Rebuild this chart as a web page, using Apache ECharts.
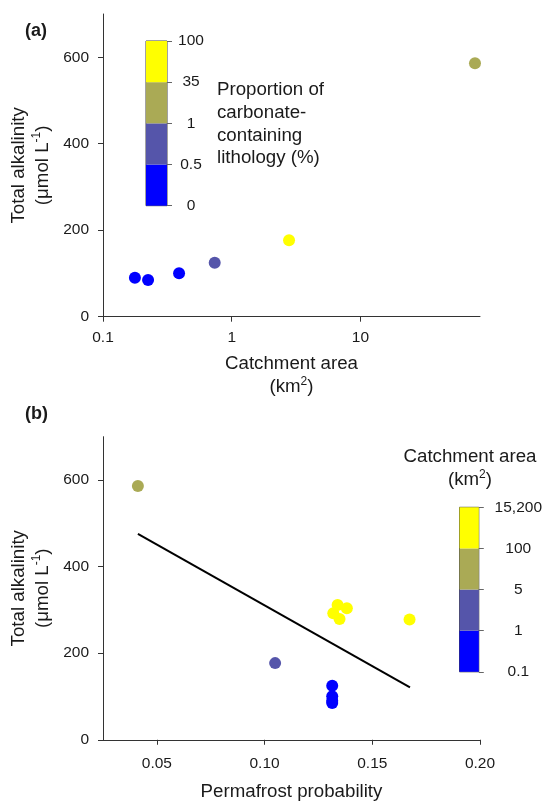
<!DOCTYPE html>
<html><head><meta charset="utf-8">
<script src="https://cdn.jsdelivr.net/npm/echarts@6/dist/echarts.min.js"></script>
<style>html,body{margin:0;padding:0;background:#fff}#c{width:545px;height:802px}</style>
</head><body><div id="c"></div><script>
const FONT = '"Liberation Sans", Arial, Helvetica, sans-serif';
const classColors = ['#0000FF', '#5555AA', '#AAAA55', '#FFFF00'];

// Panel (a): catchment area vs total alkalinity
const catchmentA = [0.177, 0.224, 0.39, 0.738, 2.79, 77.7];
const alkalinityA = [90, 85, 100.5, 125, 177, 586];
const lithClassA = [0, 0, 0, 1, 3, 2];
const xTicksA = [0.1, 1, 10];
const yTicks = [0, 200, 400, 600];
const lithLabels = ['0', '0.5', '1', '35', '100'];

// Panel (b): permafrost probability vs total alkalinity
const permafrostB = [0.0412, 0.1049, 0.1314, 0.1314, 0.1314, 0.1314, 0.1339, 0.1382, 0.1319, 0.1348, 0.1673];
const alkalinityB = [586, 177, 125, 100.5, 90, 85, 311, 303.5, 292, 279, 277.5];
const areaClassB = [2, 1, 0, 0, 0, 0, 3, 3, 3, 3, 3];
const fitX = [0.0412, 0.1675];
const fitY = [475.6, 121];
const xTicksB = [0.05, 0.10, 0.15, 0.20];
const areaLabels = ['0.1', '1', '5', '100', '15,200'];

const TXT = '#1a1a1a';
const AX = '#333';
const TICKFS = 15.5;
const rich = {
  t: { fontSize: 18.7, fontFamily: FONT, color: TXT, lineHeight: 23.5 },
  s: { fontSize: 12, fontFamily: FONT, color: TXT, lineHeight: 16, verticalAlign: 'top' }
};

function mainAxisCommon() {
  return {
    axisLine: { show: true, lineStyle: { color: AX, width: 1 } },
    axisTick: { show: true, length: 5, lineStyle: { color: AX, width: 1 } },
    splitLine: { show: false },
    nameLocation: 'middle',
    nameTextStyle: { rich: rich }
  };
}

function colorbarSeries(stack, xi, yi) {
  return classColors.map(c => ({
    type: 'bar', stack: stack, xAxisIndex: xi, yAxisIndex: yi,
    data: [1], barWidth: '100%', silent: true,
    itemStyle: { color: c, borderWidth: 0 }
  }));
}

const chart = echarts.init(document.getElementById('c'), null, { renderer: 'canvas' });
const option = {
  animation: false,
  backgroundColor: '#fff',
  grid: [
    { left: 103, top: 14, width: 377, height: 302.7 },
    { left: 146, top: 41, width: 21, height: 164.7, show: true, borderColor: '#444', borderWidth: 1 },
    { left: 103, top: 436.7, width: 377, height: 303.3 },
    { left: 459.5, top: 507.3, width: 21, height: 164.5, show: true, borderColor: '#444', borderWidth: 1 }
  ],
  xAxis: [
    Object.assign(mainAxisCommon(), {
      gridIndex: 0, type: 'log', logBase: 10, min: 0.1, max: 85,
      axisTick: { show: true, length: 5, lineStyle: { color: AX }, customValues: xTicksA },
      axisLabel: {
        customValues: xTicksA, color: TXT, fontSize: TICKFS, fontFamily: FONT, margin: 13,
        formatter: v => {
          const i = xTicksA.findIndex(t => Math.abs(Math.log10(t) - Math.log10(v)) < 1e-6);
          return i >= 0 ? String(xTicksA[i]) : '';
        }
      },
      name: '{t|Catchment area}\n{t|(km}{s|2}{t|)}', nameGap: 35
    }),
    { gridIndex: 1, type: 'category', data: [''], show: false },
    Object.assign(mainAxisCommon(), {
      gridIndex: 2, type: 'value', min: 0.025, max: 0.2,
      axisTick: { show: true, length: 5, lineStyle: { color: AX }, customValues: xTicksB },
      axisLabel: {
        customValues: xTicksB, color: TXT, fontSize: TICKFS, fontFamily: FONT, margin: 15.5,
        formatter: v => v.toFixed(2)
      },
      name: '{t|Permafrost probability}', nameGap: 40
    }),
    { gridIndex: 3, type: 'category', data: [''], show: false }
  ],
  yAxis: [
    Object.assign(mainAxisCommon(), {
      gridIndex: 0, type: 'value', min: 0, max: 700,
      axisTick: { show: true, length: 5, lineStyle: { color: AX }, customValues: yTicks },
      axisLabel: { customValues: yTicks, color: TXT, fontSize: TICKFS, fontFamily: FONT, margin: 14 },
      name: '{t|Total alkalinity}\n{t|(μmol L}{s|-1}{t|)}', nameGap: 47.5
    }),
    {
      gridIndex: 1, type: 'value', min: 0, max: 4, interval: 1, position: 'right',
      axisLine: { show: false }, splitLine: { show: false },
      axisTick: { show: true, length: 5, lineStyle: { color: '#666' } },
      axisLabel: { color: TXT, fontSize: TICKFS, fontFamily: FONT, align: 'center', margin: 24,
        formatter: v => lithLabels[Math.round(v)] }
    },
    Object.assign(mainAxisCommon(), {
      gridIndex: 2, type: 'value', min: 0, max: 700,
      axisTick: { show: true, length: 5, lineStyle: { color: AX }, customValues: yTicks },
      axisLabel: { customValues: yTicks, color: TXT, fontSize: TICKFS, fontFamily: FONT, margin: 14 },
      name: '{t|Total alkalinity}\n{t|(μmol L}{s|-1}{t|)}', nameGap: 47.5
    }),
    {
      gridIndex: 3, type: 'value', min: 0, max: 4, interval: 1, position: 'right',
      axisLine: { show: false }, splitLine: { show: false },
      axisTick: { show: true, length: 5, lineStyle: { color: '#666' } },
      axisLabel: { color: TXT, fontSize: TICKFS, fontFamily: FONT, align: 'center', margin: 39.5,
        formatter: v => areaLabels[Math.round(v)] }
    }
  ],
  series: [
    {
      type: 'scatter', xAxisIndex: 0, yAxisIndex: 0, symbolSize: 12, silent: true,
      data: catchmentA.map((x, i) => ({ value: [x, alkalinityA[i]], itemStyle: { color: classColors[lithClassA[i]], opacity: 1 } }))
    },
    {
      type: 'line', xAxisIndex: 2, yAxisIndex: 2, showSymbol: false, silent: true,
      lineStyle: { color: '#000', width: 2 },
      data: fitX.map((x, i) => [x, fitY[i]])
    },
    {
      type: 'scatter', xAxisIndex: 2, yAxisIndex: 2, symbolSize: 12, silent: true,
      data: permafrostB.map((x, i) => ({ value: [x, alkalinityB[i]], itemStyle: { color: classColors[areaClassB[i]], opacity: 1 } }))
    }
  ].concat(colorbarSeries('cbA', 1, 1), colorbarSeries('cbB', 3, 3)),
  graphic: [
    { type: 'text', left: 25, top: 22, style: { text: '(a)', font: 'bold 18px ' + FONT, fill: TXT } },
    { type: 'text', left: 25, top: 405.5, style: { text: '(b)', font: 'bold 18px ' + FONT, fill: TXT } },
    { type: 'text', left: 217, top: 79, style: {
        text: 'Proportion of\ncarbonate-\ncontaining\nlithology (%)',
        font: '18.7px ' + FONT, fill: TXT, lineHeight: 22.6 } },
    { type: 'text', x: 470, y: 445, style: {
        text: '{t|Catchment area}\n{t|(km}{s|2}{t|)}', align: 'center', verticalAlign: 'top',
        rich: { t: { fontSize: 18.7, fontFamily: FONT, fill: TXT, lineHeight: 23.3, align: 'center' },
                s: { fontSize: 12, fontFamily: FONT, fill: TXT, lineHeight: 16, verticalAlign: 'top' } } } }
  ]
};
chart.setOption(option);
</script></body></html>
